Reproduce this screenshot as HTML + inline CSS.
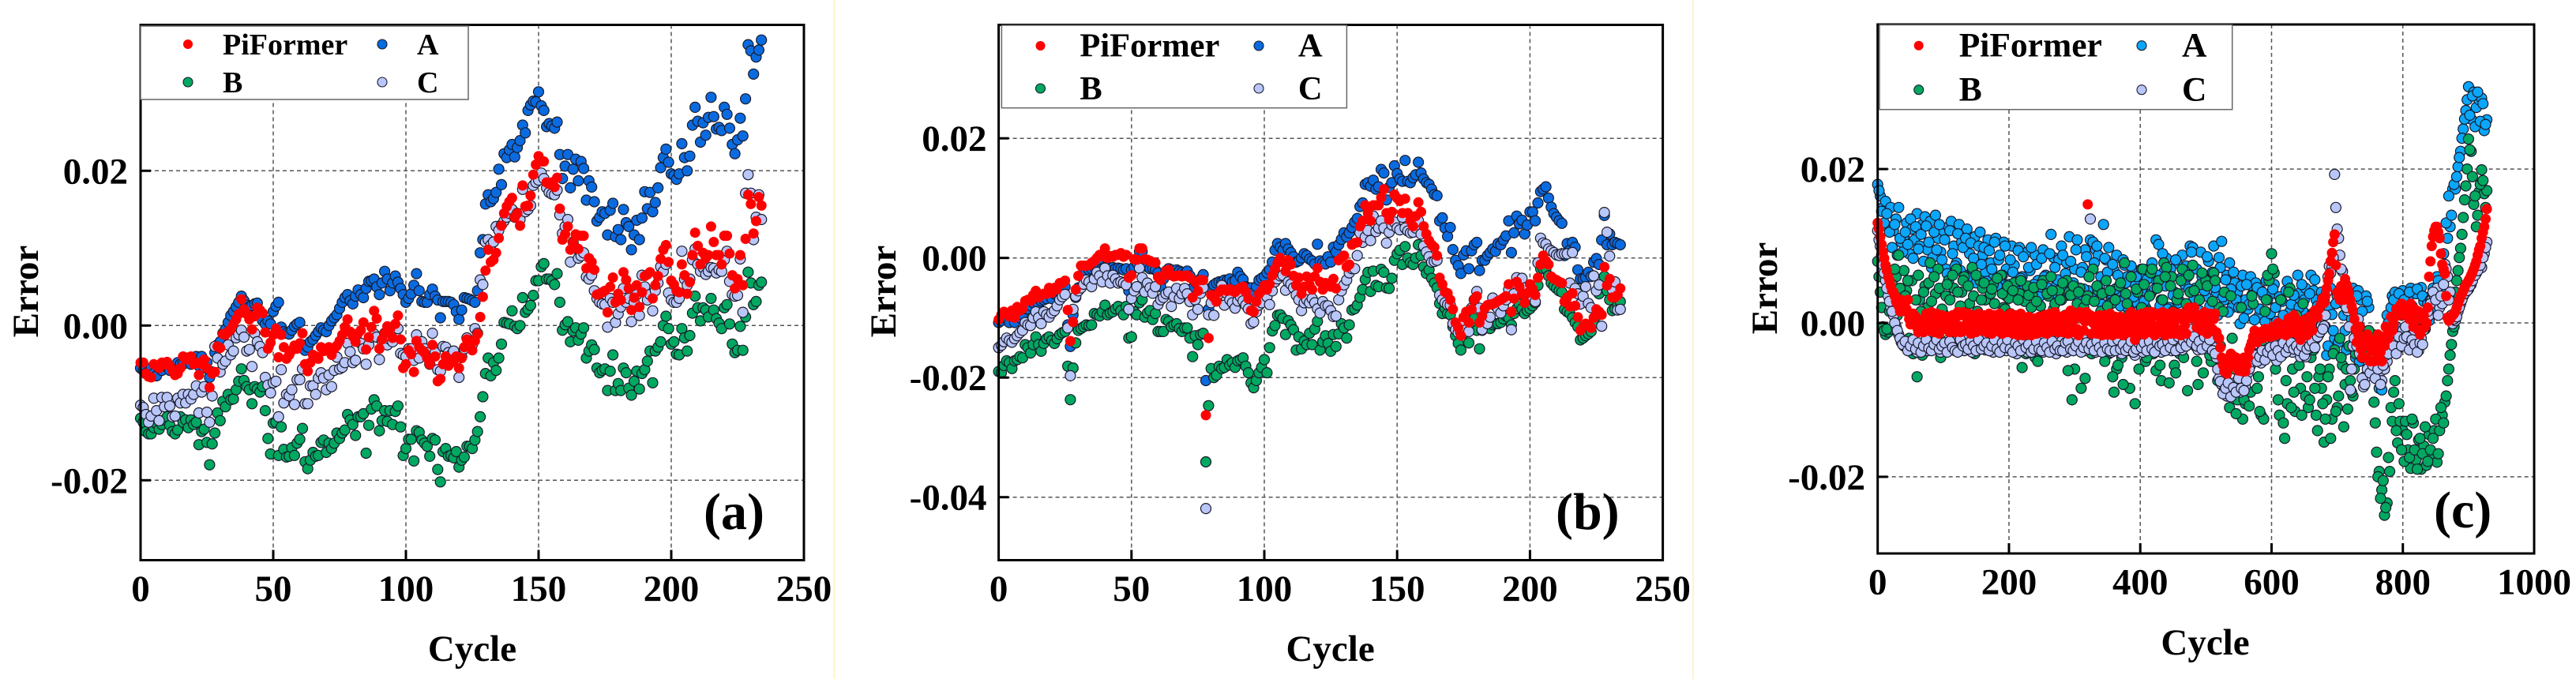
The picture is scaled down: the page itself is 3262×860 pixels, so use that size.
<!DOCTYPE html>
<html lang="en">
<head>
<meta charset="utf-8">
<title>Error vs Cycle scatter panels</title>
<style>
html,body{margin:0;padding:0;background:#fff;width:3262px;height:860px;overflow:hidden}
svg{display:block}
text{font-family:"Liberation Serif",serif;font-weight:bold;fill:#000}
</style>
</head>
<body>
<svg id="figure" width="3262" height="860" viewBox="0 0 3262 860" xmlns="http://www.w3.org/2000/svg">
  <rect x="0" y="0" width="3262" height="860" fill="#fff"/>
  <line x1="1056.5" y1="0" x2="1056.5" y2="860" stroke="#fdf5c4" stroke-width="2"/>
  <line x1="2144" y1="0" x2="2144" y2="860" stroke="#fdf5c4" stroke-width="2"/>

  <g>
    <g id="a-grid"></g>
    <g id="a-marks"></g>
    <rect x="178" y="31.5" width="840" height="678" fill="none" stroke="#000" stroke-width="3"/>
    <g id="a-ticks"></g>
    <text font-size="47" text-anchor="middle" transform="translate(48,369) rotate(-90)">Error</text>
    <text font-size="47" text-anchor="middle" x="598" y="837">Cycle</text>
    <text font-size="66" x="891" y="670">(a)</text>
    <g>
      <rect x="178" y="33" width="415" height="93" fill="#fff" stroke="#666" stroke-width="1.5"/>
      <circle cx="238" cy="56" r="6" fill="#ff0000"/>
      <text font-size="38" x="282" y="69">PiFormer</text>
      <circle cx="484" cy="56" r="6" fill="#0a6be0" stroke="#1a1a2a" stroke-width="1.1"/>
      <text font-size="38" x="528" y="69">A</text>
      <circle cx="238" cy="104" r="6" fill="#00a860" stroke="#1a1a2a" stroke-width="1.1"/>
      <text font-size="38" x="282" y="117">B</text>
      <circle cx="484" cy="104" r="6" fill="#b9c6f9" stroke="#1a1a2a" stroke-width="1.1"/>
      <text font-size="38" x="528" y="117">C</text>
    </g>
  </g>

  <g>
    <g id="b-grid"></g>
    <g id="b-marks"></g>
    <rect x="1264.6" y="31.5" width="841" height="678" fill="none" stroke="#000" stroke-width="3"/>
    <g id="b-ticks"></g>
    <text font-size="47" text-anchor="middle" transform="translate(1134,369) rotate(-90)">Error</text>
    <text font-size="47" text-anchor="middle" x="1684.6" y="837">Cycle</text>
    <text font-size="66" x="1970" y="670">(b)</text>
    <g>
      <rect x="1268.4" y="32" width="437" height="104.7" fill="#fff" stroke="#666" stroke-width="1.5"/>
      <circle cx="1317.5" cy="58" r="6" fill="#ff0000"/>
      <text font-size="42.5" x="1367.4" y="71.7">PiFormer</text>
      <circle cx="1594" cy="58" r="6" fill="#0a6be0" stroke="#1a1a2a" stroke-width="1.1"/>
      <text font-size="42.5" x="1643.9" y="71.7">A</text>
      <circle cx="1317.5" cy="112" r="6" fill="#00a860" stroke="#1a1a2a" stroke-width="1.1"/>
      <text font-size="42.5" x="1367.4" y="126">B</text>
      <circle cx="1594" cy="112" r="6" fill="#b9c6f9" stroke="#1a1a2a" stroke-width="1.1"/>
      <text font-size="42.5" x="1643.9" y="126">C</text>
    </g>
  </g>

  <g>
    <g id="c-grid"></g>
    <g id="c-marks"></g>
    <rect x="2377.7" y="31" width="831.3" height="670" fill="none" stroke="#000" stroke-width="3"/>
    <g id="c-ticks"></g>
    <text font-size="47" text-anchor="middle" transform="translate(2250,365) rotate(-90)">Error</text>
    <text font-size="47" text-anchor="middle" x="2792.5" y="829">Cycle</text>
    <text font-size="66" x="3082" y="668">(c)</text>
    <g>
      <rect x="2380" y="31.5" width="446.7" height="107.2" fill="#fff" stroke="#666" stroke-width="1.5"/>
      <circle cx="2429.7" cy="57.7" r="6" fill="#ff0000"/>
      <text font-size="43.5" x="2480.7" y="71.7">PiFormer</text>
      <circle cx="2712" cy="57.7" r="6" fill="#0aa6fb" stroke="#1a1a2a" stroke-width="1.1"/>
      <text font-size="43.5" x="2763" y="71.7">A</text>
      <circle cx="2429.7" cy="113.7" r="6" fill="#00a860" stroke="#1a1a2a" stroke-width="1.1"/>
      <text font-size="43.5" x="2480.7" y="127.7">B</text>
      <circle cx="2712" cy="113.7" r="6" fill="#b9c6f9" stroke="#1a1a2a" stroke-width="1.1"/>
      <text font-size="43.5" x="2763" y="127.7">C</text>
    </g>
  </g>
</svg>
<script>
// Error values are in units of 1e-4.
// Panels (a) and (b): one value per cycle starting at cycle 0.
const aPiFormer = [
-48,-48,-62,-66,-67,-50,-52,-55,-48,-50,
-47,-52,-58,-64,-62,-55,-40,-44,-42,-40,
-50,-48,-64,-50,-44,-55,-80,-62,-60,-27,
-29,-11,-12,-8,-5,2,8,15,34,21,
15,8,-5,12,23,20,16,-9,-30,-22,
-12,-4,-41,-12,-28,-43,-38,-32,-26,-30,
-23,-10,-50,-59,-48,-38,-40,-43,-28,-33,
-30,-28,-38,-30,-26,-20,-12,-2,8,-8,
-14,-21,-10,-6,4,-31,-15,-2,19,9,
-30,-18,-10,-1,-5,-16,2,13,-18,-55,
-50,-32,-37,-60,-20,-28,-32,-35,-42,-50,
-25,-40,-72,-69,-50,-40,-52,-48,-45,-40,
-55,-42,-28,-18,-20,-32,-20,-11,11,37,
71,98,82,85,94,113,129,145,154,160,
165,140,145,129,181,154,155,168,195,208,
219,212,212,185,183,185,179,191,151,111,
118,128,98,108,118,99,116,116,74,87,
82,72,40,41,43,45,17,50,62,30,
41,33,69,59,48,20,36,52,24,43,
64,66,69,35,52,64,86,98,104,82,
58,53,45,43,79,65,41,56,91,120,
103,79,94,87,91,128,108,91,91,79,
116,116,93,65,48,60,91,52,112,169,
157,119,135,166,155];
const aA = [
-55,-58,-62,-60,-55,-62,-65,-55,-58,-52,
-52,-58,-55,-60,-48,-50,-50,-42,-42,-50,
-45,-40,-52,-40,-55,-48,-67,-60,-35,-25,
-21,-10,-5,4,13,18,24,30,38,32,
26,24,26,28,29,18,6,2,6,2,
18,25,30,-2,-8,-10,-11,-6,-1,2,
4,-25,-32,-28,-21,-18,-13,-8,-3,-6,
-8,0,6,10,14,22,30,36,40,32,
28,38,46,40,36,48,57,58,60,50,
40,55,70,60,45,55,64,56,48,40,
30,35,41,52,67,45,31,30,30,40,
47,38,33,10,31,31,31,30,27,18,
8,20,36,35,34,32,30,45,94,111,
157,169,160,164,172,202,182,222,217,227,
234,218,230,239,259,249,278,285,290,289,
302,284,278,257,261,258,255,263,221,190,
206,221,178,202,215,187,212,203,162,187,
179,160,135,140,147,145,117,149,158,115,
124,111,150,133,128,98,117,136,111,139,
173,151,172,147,159,178,204,217,228,211,
196,194,189,196,235,217,200,219,259,282,
264,237,262,246,269,295,270,254,256,252,
282,273,255,234,222,240,268,245,293,363,
355,325,347,356,369];
const aB = [
-120,-125,-137,-140,-140,-132,-127,-134,-128,-122,
-118,-129,-137,-140,-135,-118,-125,-122,-132,-122,
-128,-125,-154,-137,-134,-151,-180,-153,-139,-113,
-123,-98,-105,-89,-96,-95,-83,-72,-56,-71,
-79,-83,-101,-79,-82,-86,-79,-110,-146,-166,
-126,-125,-168,-131,-160,-170,-169,-158,-168,-152,
-147,-133,-176,-185,-174,-164,-169,-168,-151,-148,
-164,-152,-159,-152,-139,-146,-139,-135,-115,-122,
-128,-142,-118,-118,-114,-165,-129,-108,-96,-104,
-136,-123,-110,-124,-110,-128,-111,-104,-131,-168,
-159,-147,-147,-175,-136,-138,-148,-152,-156,-169,
-146,-148,-186,-202,-163,-159,-169,-168,-171,-163,
-183,-174,-170,-156,-156,-159,-148,-137,-118,-92,
-62,-42,-65,-48,-58,-42,-24,4,3,2,
19,-1,-4,0,36,17,21,26,39,58,
58,76,80,60,60,58,53,67,30,-6,
1,5,-21,-7,-3,-19,-11,-3,-42,-33,
-25,-31,-55,-61,-58,-56,-84,-59,-38,-84,
-75,-84,-55,-61,-81,-90,-72,-59,-82,-62,
-57,-46,-33,-74,-33,-28,-21,0,12,-4,
-24,-21,-37,-38,-4,-16,-33,-13,16,38,
23,6,23,20,11,35,20,9,3,-4,
23,27,2,-24,-35,-32,-1,-32,11,69,
55,27,31,52,56];
const aC = [
-103,-106,-115,-125,-117,-94,-110,-123,-93,-105,
-93,-104,-118,-117,-94,-100,-89,-100,-89,-95,
-89,-78,-113,-86,-79,-112,-125,-91,-27,-42,
-60,-50,-46,-25,-38,-33,-16,-12,-6,-15,
-33,-31,-53,-10,-21,-27,-35,-67,-77,-87,
-74,-72,-118,-57,-100,-89,-91,-83,-102,-70,
-70,-56,-101,-101,-78,-78,-89,-68,-61,-68,
-83,-64,-79,-58,-41,-56,-54,-48,-23,-34,
-48,-45,-21,-23,-30,-50,-25,-15,-11,-15,
-44,-20,-10,-25,-18,-21,-12,-4,-36,-38,
-40,-30,-30,-45,-12,-42,-21,-30,-35,-50,
-10,-35,-57,-59,-27,-28,-35,-38,-33,-45,
-67,-40,-30,-16,-20,-25,-4,-10,59,53,
108,111,104,108,128,123,130,135,140,145,
150,140,145,137,176,147,150,155,181,185,
188,197,190,178,172,170,169,175,143,119,
128,137,82,108,100,87,90,94,63,60,
65,45,35,30,28,27,-2,35,30,4,
15,24,48,30,35,5,30,40,13,65,
50,33,40,19,45,55,76,70,79,42,
33,30,30,35,96,60,52,60,85,99,
79,70,75,66,70,75,74,68,72,70,
85,96,57,40,38,39,86,17,171,195,
171,111,140,169,137];

const bPiFormer = [
-103,-95,-90,-92,-98,-88,-100,-82,-88,-85,
-72,-70,-72,-62,-55,-66,-62,-60,-60,-50,
-58,-50,-52,-42,-42,-38,-87,-139,-107,-53,
-30,-13,-13,-13,-12,-8,-5,0,5,3,
16,0,3,2,5,5,8,2,5,-33,
-29,-2,-3,16,16,-2,-3,-5,-7,-8,
-32,-37,-30,-22,-20,-29,-31,-30,-29,-31,
-30,-29,-33,-66,-40,-55,-37,-37,-263,-134,
-62,-66,-73,-57,-53,-53,-55,-52,-55,-57,
-53,-50,-48,-57,-68,-88,-90,-73,-60,-55,
-46,-53,-44,-29,-18,-8,0,-7,-22,-4,
-11,-30,-46,-33,-60,-48,-31,-45,-53,-31,
-17,-40,-53,-42,-45,-48,-35,-51,-4,0,
4,-15,-11,22,25,26,53,62,88,75,
62,88,88,88,101,115,75,64,77,106,
100,95,75,99,75,62,53,70,93,77,
53,40,29,22,18,4,-33,-44,-57,-59,
-70,-86,-108,-117,-130,-99,-90,-108,-86,-70,
-64,-108,-97,-84,-79,-78,-77,-75,-72,-70,
-67,-64,-44,-90,-68,-40,-48,-60,-75,-59,
-44,-52,-62,-33,-11,4,-5,-11,-31,-35,
-37,-40,-42,-73,-66,-81,-59,-80,-99,-121,
-115,-110,-112,-117,-100,-86,-90,-95,-15,-46,
-35,-66,-66,-62,-51];
const bA = [
-108,-105,-100,-102,-108,-98,-108,-95,-100,-95,
-85,-85,-80,-75,-70,-78,-72,-70,-68,-60,
-68,-60,-62,-52,-50,-48,-112,-148,-95,-66,
-50,-30,-24,-22,-20,-18,-15,-14,-12,-18,
-16,-15,-18,-16,-18,-17,-18,-20,-18,-55,
-20,-15,-8,11,11,-10,-15,-18,-18,-20,
-25,-48,-35,-22,-18,-20,-25,-20,-22,-24,
-26,-22,-30,-50,-40,-45,-35,-28,-205,-86,
-50,-45,-42,-40,-40,-37,-38,-35,-40,-38,
-24,-31,-36,-48,-50,-50,-58,-48,-37,-34,
-31,-25,-20,-7,13,24,18,13,24,15,
9,2,-7,-5,0,7,4,-2,-5,-10,
23,-5,-8,-10,2,-7,18,10,22,31,
42,35,42,51,60,66,86,92,123,126,
120,130,115,119,148,142,97,118,126,154,
141,132,128,163,128,126,134,139,160,142,
132,126,123,115,106,104,62,67,50,36,
51,14,-4,-13,-26,5,12,-18,12,22,
26,-21,-4,-4,4,9,15,11,24,22,
30,37,62,9,42,70,57,63,40,55,
77,77,62,92,111,115,119,100,85,74,
68,62,58,4,24,13,26,18,-20,-35,
-35,-33,-24,-31,-7,-1,-11,30,71,22,
40,22,26,24,22];
const bB = [
-190,-192,-180,-172,-175,-185,-172,-170,-165,-167,
-145,-150,-159,-145,-132,-145,-156,-143,-135,-132,
-138,-143,-135,-128,-125,-123,-181,-237,-184,-142,
-121,-118,-115,-112,-113,-112,-93,-95,-97,-90,
-79,-95,-92,-90,-85,-81,-88,-95,-81,-134,
-132,-90,-95,-75,-70,-99,-92,-88,-103,-93,
-123,-123,-123,-103,-106,-115,-112,-110,-118,-123,
-117,-117,-134,-165,-130,-145,-128,-126,-341,-247,
-185,-200,-196,-181,-185,-183,-170,-179,-175,-183,
-172,-170,-167,-181,-192,-209,-217,-205,-192,-183,
-170,-192,-150,-122,-113,-96,-95,-101,-128,-105,
-112,-120,-154,-132,-152,-139,-145,-126,-145,-119,
-106,-154,-140,-130,-143,-156,-128,-148,-127,-110,
-117,-134,-112,-87,-85,-79,-66,-53,-36,-24,
-56,-22,-46,-48,-19,-24,-50,-51,-34,-4,
7,13,-11,19,0,-8,-11,0,22,4,
-15,-26,-20,-34,-42,-50,-76,-93,-84,-93,
-95,-115,-130,-143,-154,-126,-110,-142,-115,-101,
-121,-152,-121,-110,-115,-118,-112,-110,-110,-108,
-102,-97,-100,-112,-93,-85,-77,-85,-93,-88,
-85,-80,-75,-46,-18,-18,-18,-30,-42,-47,
-51,-55,-57,-86,-90,-93,-100,-108,-115,-137,
-134,-130,-127,-123,-110,-97,-60,-45,-31,-55,
-70,-88,-85,-80,-73];
const bC = [
-150,-146,-140,-134,-138,-141,-135,-130,-125,-121,
-108,-112,-113,-100,-90,-100,-110,-90,-95,-99,
-92,-88,-80,-70,-65,-61,-117,-197,-86,-64,
-55,-50,-44,-37,-40,-48,-35,-24,-30,-40,
-17,-30,-42,-29,-35,-42,-40,-42,-45,-86,
-68,-55,-48,-17,-33,-57,-42,-50,-59,-48,
-78,-70,-66,-60,-57,-81,-65,-51,-68,-60,
-51,-60,-73,-95,-70,-86,-59,-50,-419,-95,
-75,-96,-70,-60,-46,-79,-60,-70,-75,-84,
-72,-65,-72,-79,-85,-110,-107,-90,-79,-75,
-60,-65,-78,-55,-40,-35,-30,-29,-54,-40,
-44,-50,-62,-70,-88,-75,-70,-75,-68,-75,
-85,-92,-73,-80,-80,-88,-98,-97,-70,-55,
-45,-37,-25,-18,-18,4,42,26,35,46,
29,70,44,50,62,50,25,43,55,60,
50,47,68,50,45,42,43,50,62,40,
20,10,2,-7,-6,-4,-62,-70,-75,-78,
-79,-110,-120,-125,-125,-110,-120,-123,-84,-70,
-56,-84,-120,-105,-110,-99,-67,-80,-85,-92,
-80,-70,-53,-120,-60,-33,-40,-34,-50,-60,
-60,-65,-73,-8,33,25,23,15,12,9,
5,4,7,7,7,-42,9,-51,-60,-77,
-64,-48,-76,-83,-30,-55,-45,-114,76,43,
3,-53,-40,-87,-86];

// Panel (c): values at cycles 0,4,8,... and "Between" values at cycles 2,6,10,...
const cPiFormer = [
130,112,92,75,60,48,40,28,22,30,
25,18,5,2,-2,-6,-8,-5,6,-2,
8,-6,4,-8,2,6,-5,3,-6,0,
8,-4,10,-4,6,-5,2,8,-6,0,
3,-5,6,-7,2,5,-6,4,-8,0,
6,-4,3,-7,0,-10,-6,2,-8,-3,
-6,2,5,-5,3,6,-4,5,8,-3,
4,-2,6,10,-4,5,-8,14,6,2,
154,10,0,-4,4,-6,5,-8,3,-10,
-3,6,-8,4,-12,-3,10,-2,-22,-6,
5,-4,8,-6,4,-8,10,-3,6,-8,
3,-6,8,-4,5,-10,6,-3,14,16,
12,6,-4,3,-6,8,-2,10,5,-12,
-20,-45,-63,-66,-50,-42,-52,-55,-60,-63,
-63,-45,-30,-18,-15,-20,-12,-15,-18,-8,
-11,-8,-12,-5,-14,-6,0,-8,2,6,
-8,-22,-5,-10,2,-4,6,14,18,26,
26,45,64,91,115,40,30,40,57,45,
30,16,-8,-15,-34,-20,-45,-20,-35,-50,
-40,-25,-50,-30,-15,-5,-10,8,15,23,
22,10,15,25,-5,5,15,-10,10,0,
60,100,120,125,110,76,64,7,5,10,
15,25,35,42,50,55,62,70,80,95,
110,125,148];
const cPiFormerBetween = [
122,102,84,68,55,42,35,25,15,28,
15,30,-2,12,8,-12,2,-12,12,-10,
14,-12,12,-14,10,-8,8,-12,10,-12,
14,-12,14,-10,12,-14,10,-12,12,-10,
10,-12,12,-14,10,-10,12,-14,8,-12,
12,-14,10,-16,12,-16,-14,8,-16,6,
-14,8,-12,10,-14,12,-10,14,-12,8,
-12,10,-14,16,-12,12,-16,10,-10,14,
8,-14,8,-14,10,-16,10,-15,12,-16,
8,-14,8,-16,6,-12,14,-14,10,-14,
12,-15,14,-12,14,-16,12,-12,14,-16,
12,-14,14,-14,12,-16,12,-14,20,6,
20,-6,10,-10,14,-14,12,-8,12,-18,
-32,-55,-58,-60,-40,-55,-45,-62,-52,-45,
-55,-35,-25,-10,-25,-12,-20,-8,-15,-18,
-5,-16,0,-14,-4,-16,6,-12,10,-14,
2,-14,4,-16,8,-10,16,8,22,32,
35,55,80,105,75,35,48,30,50,38,
22,5,-25,-5,-45,-30,-15,-50,-25,-30,
-15,-38,-20,-5,-20,8,-2,18,10,25,
12,22,5,12,18,-8,-15,5,-5,20,
80,112,125,118,90,70,35,3,8,12,
20,30,38,46,52,58,66,75,88,100,
118,135];
const cA = [
180,165,150,158,125,150,120,135,150,105,
112,130,90,122,108,142,100,128,138,95,
132,85,140,110,92,120,70,125,132,100,
78,128,105,62,122,90,70,112,60,118,
88,65,108,78,58,110,82,55,105,70,
50,100,75,52,98,60,45,92,68,42,
88,55,40,95,62,40,115,85,48,82,
100,44,78,112,50,70,108,45,72,95,
42,108,105,95,88,60,128,82,98,30,
68,88,42,28,75,60,30,70,50,25,
62,42,20,70,38,58,108,102,30,66,
84,20,60,40,78,28,88,50,60,100,
98,45,30,92,58,35,80,55,100,40,
85,106,30,62,78,20,52,40,-1,62,
30,18,60,45,52,8,42,35,55,10,
38,50,2,34,28,-2,54,15,2,30,
62,40,15,45,-2,62,42,30,-10,40,
30,-42,20,11,-20,35,42,30,-10,40,
-30,45,-45,42,30,-40,35,20,-60,-30,
-55,-85,-87,-60,10,-20,35,40,-25,25,
42,18,30,45,-5,38,-12,46,28,33,
3,20,33,60,33,40,70,110,125,174,
174,203,223,252,276,307,265,300,280,290,
292,250,264];
const cABetween = [
172,145,130,142,118,98,128,88,110,92,
118,102,135,84,125,96,115,80,126,105,
72,118,95,128,82,108,64,120,90,74,
116,68,98,110,58,104,84,52,100,76,
98,54,94,70,105,48,88,62,100,44,
82,66,42,94,58,86,36,72,98,50,
76,34,84,60,46,90,38,72,56,30,
88,64,36,80,52,95,34,66,44,86,
60,32,78,100,48,24,84,66,26,76,
44,62,22,82,52,18,74,34,60,16,
70,28,56,14,78,44,62,22,90,48,
18,70,36,82,26,58,12,74,44,92,
32,70,16,60,42,86,22,66,46,10,
72,34,56,14,44,66,30,20,48,6,
50,24,36,4,46,18,40,2,30,12,
44,20,-2,30,10,42,-4,24,36,6,
20,50,30,5,38,12,56,22,-5,32,
-5,-30,45,-10,25,-25,38,10,-35,28,
5,-30,35,-50,15,-20,28,-40,-15,-65,
-70,-78,-50,-35,0,20,30,-5,38,10,
30,-8,40,22,-15,44,5,35,-8,25,
30,45,15,55,28,90,130,165,140,180,
190,215,240,265,290,270,295,255,300,262,
285,258];
const cB = [
80,40,-5,-15,-12,-8,25,60,88,30,
68,42,-20,55,10,-70,30,-42,48,20,
78,-25,38,70,-45,12,35,55,-30,45,
70,-20,40,60,-10,25,72,-40,15,55,
45,30,-15,38,50,0,-20,62,20,35,
32,-25,52,-5,38,-58,28,48,-15,35,
-45,-50,22,55,-20,35,60,18,-30,42,
30,-18,55,40,-100,-60,25,45,-15,-72,
35,-20,70,-30,42,15,-35,55,-40,25,
-90,-60,48,-45,78,25,-85,-30,-105,40,
-35,70,-50,15,65,-40,-62,55,-75,78,
72,-78,60,-55,30,-40,70,10,-88,40,
75,-30,-80,50,-65,55,10,-50,65,-35,
20,-55,40,-95,-110,-20,-60,-100,-70,-125,
-105,-60,-90,25,-40,-70,-120,-125,30,55,
90,65,-40,-120,-20,-150,-105,45,-60,-115,
-30,-85,25,-95,-110,-45,-35,-120,-70,-85,
-155,-100,-60,-125,-35,-110,-20,-55,-80,-112,
-75,-95,-40,-20,-30,-15,-40,-10,-20,-103,
-168,-193,-217,-250,-234,-193,-128,-75,-156,-128,
-140,-128,-165,-189,-130,-178,-152,-190,-160,-185,
-145,-175,-140,-181,-140,-120,-103,-75,-42,-11,
40,68,97,137,178,239,223,154,125,170,
199,168,172];
const cBBetween = [
60,20,-10,-8,15,50,70,10,45,25,
35,55,5,-40,30,62,15,40,-22,52,
28,60,-10,45,18,-35,50,30,62,8,
40,22,55,-28,48,10,35,62,-15,30,
52,8,-35,44,25,58,-10,38,18,48,
12,42,-28,30,55,6,-40,36,20,46,
28,-32,50,10,38,-20,42,25,-38,30,
52,10,-62,36,48,-25,40,-85,20,30,
60,-40,28,48,-15,38,-50,22,42,-70,
30,-55,52,-80,38,10,60,-25,44,-60,
20,50,-45,35,70,-20,45,-55,30,60,
-35,48,15,-65,38,55,-45,25,62,-15,
42,-50,30,65,-20,48,-42,28,55,-75,
-30,15,-72,-90,35,-50,-118,-85,20,-100,
-60,-108,35,-20,-85,-115,-30,15,62,-40,
70,-60,-100,30,-130,-75,40,-110,-90,10,
-55,-120,-40,-70,-100,10,-85,-140,-60,-105,
-125,-70,-150,-40,-115,-95,-45,-135,-60,-30,
-90,-60,-25,-5,-45,-70,-30,-48,-60,-130,
-200,-228,-205,-240,-175,-110,-90,-140,-105,-165,
-180,-145,-175,-125,-165,-190,-150,-170,-135,-180,
-165,-150,-125,-170,-110,-130,-95,-60,-28,-5,
55,85,115,160,200,225,190,165,140,180,
185,150];
const cC = [
120,100,75,55,35,20,10,-5,-15,-25,
-30,-32,-28,-35,-30,-38,-28,-33,-26,-36,
-30,-24,-34,-27,-38,-25,-32,-22,-35,-28,
-24,-33,-26,-36,-22,-30,-38,-25,-32,-28,
-22,-35,-27,-24,-38,-30,-22,-33,-26,-36,
-28,-24,-35,-40,-27,-33,-24,-38,-30,-25,
-36,-28,-22,-38,-30,-25,-35,-20,-40,-28,
-24,-33,-38,-26,-30,-22,-35,-28,-20,-36,
-30,135,-24,-38,-28,-22,-35,-30,-25,-38,
-28,-33,-24,-40,-30,-20,-36,-28,-42,-30,
-25,-38,-22,-35,-30,-28,-32,-24,-38,-26,
-30,-22,-36,-26,-30,-22,-35,-18,-28,-15,
-8,-22,-35,-16,-28,-20,-33,-25,-32,-45,
-72,-80,-88,-95,-85,-92,-78,-82,-90,-75,
-83,-65,-55,-49,-45,-40,-52,-38,-35,-42,
-30,-38,-49,-32,-42,-30,-35,-28,-38,-25,
-30,-44,-38,-44,-28,-32,-27,-20,-15,-4,
-4,40,74,72,193,122,88,67,23,16,
-87,-30,-9,5,-20,-83,-70,-55,-60,-66,
-70,-66,-75,-60,-50,-34,-30,-20,-34,-25,
-10,-5,-25,-30,-15,-30,-36,-20,-9,5,
10,30,35,45,20,25,76,60,40,-1,
3,15,25,35,40,44,50,60,65,72,
72,90,105];
const cCBetween = [
108,88,65,45,28,15,0,-10,-20,-28,
-24,-36,-30,-22,-34,-26,-38,-30,-22,-33,
-36,-28,-22,-34,-30,-26,-38,-24,-32,-36,
-38,-22,-30,-28,-34,-24,-30,-36,-22,-34,
-30,-26,-36,-30,-22,-34,-38,-26,-32,-22,
-34,-38,-26,-30,-36,-22,-32,-28,-38,-34,
-24,-34,-36,-26,-32,-38,-24,-34,-30,-36,
-36,-26,-24,-34,-36,-30,-24,-38,-32,-26,
-34,-28,-36,-24,-32,-38,-26,-34,-36,-24,
-36,-22,-34,-28,-36,-32,-24,-38,-34,-26,
-32,-26,-36,-24,-34,-38,-26,-30,-28,-36,
-24,-32,-22,-36,-18,-32,-24,-30,-20,-25,
-18,-30,-24,-34,-18,-30,-22,-36,-40,-60,
-76,-92,-85,-78,-96,-84,-90,-72,-85,-88,
-75,-60,-50,-42,-50,-44,-36,-48,-38,-32,
-42,-30,-36,-44,-26,-38,-32,-26,-34,-30,
-36,-30,-42,-34,-30,-24,-32,-18,-12,-8,
10,60,65,85,150,110,70,45,20,-5,
-60,-20,-30,-40,-72,-80,-60,-65,-55,-72,
-60,-80,-55,-42,-40,-25,-30,-40,-18,-30,
-20,-18,-35,-22,-28,-38,-26,-28,-5,15,
25,40,30,10,35,50,70,30,10,5,
8,20,30,38,42,48,55,62,68,75,
85,98];

const abXTicks = [0, 50, 100, 150, 200, 250];
const cXTicks = [0, 200, 400, 600, 800, 1000];
const aYTicks = [0.02, 0, -0.02];
const bYTicks = [0.02, 0, -0.02, -0.04];
const cYTicks = [0.02, 0, -0.02];

const SVGNS = 'http://www.w3.org/2000/svg';
function mk(tag, attrs, parent) {
  const el = document.createElementNS(SVGNS, tag);
  for (const k in attrs) el.setAttribute(k, attrs[k]);
  parent.appendChild(el);
  return el;
}

function drawPanel(cfg) {
  const xScale = c => cfg.x0 + (c / cfg.xMax) * (cfg.x1 - cfg.x0);
  const yScale = v => cfg.yZero - v * cfg.yPerUnit;
  const grid = document.getElementById(cfg.id + '-grid');
  const marks = document.getElementById(cfg.id + '-marks');
  const ticks = document.getElementById(cfg.id + '-ticks');

  cfg.xTicks.forEach(t => {
    const x = xScale(t);
    if (t > 0 && t < cfg.xMax) {
      const gl = mk('line', {x1: x, x2: x, y1: cfg.yTop, y2: cfg.yBottom, stroke: '#555', 'stroke-width': 1.5, 'stroke-dasharray': '5,4'}, grid);
      
      
      const tm = mk('line', {x1: x, x2: x, y1: cfg.yBottom, y2: cfg.yBottom - 13, stroke: '#000', 'stroke-width': 3}, ticks);
      
      
    }
    const lb = mk('text', {x: x, y: cfg.xLabelY, 'font-size': 47, 'text-anchor': 'middle'}, ticks);
    lb.textContent = String(t);
    
    
  });

  cfg.yTicks.forEach(t => {
    const y = yScale(t * 10000);
    const gl = mk('line', {x1: cfg.x0, x2: cfg.x1, y1: y, y2: y, stroke: '#555', 'stroke-width': 1.5, 'stroke-dasharray': '5,4'}, grid);
    
    
    const tm = mk('line', {x1: cfg.x0, x2: cfg.x0 + 13, y1: y, y2: y, stroke: '#000', 'stroke-width': 3}, ticks);
    
    
    const lb = mk('text', {x: cfg.yLabelX, y: y + 16, 'font-size': 47, 'text-anchor': 'end'}, ticks);
    lb.textContent = t.toFixed(2);
    
    
  });

  cfg.series.forEach(s => {
    const g = mk('g', {}, marks);
    
    
    const addPoint = (cycle, v) => {
      const attrs = {cx: xScale(cycle).toFixed(1), cy: yScale(v).toFixed(1), r: 6.5, fill: s.color};
      if (s.outline) { attrs.stroke = '#1a1a2a'; attrs['stroke-width'] = 1.2; }
      const pt = mk('circle', attrs, g);
      
      
    };
    s.values.forEach((v, i) => addPoint(i * cfg.step, v));
    if (s.between) s.between.forEach((v, i) => addPoint(i * cfg.step + cfg.step / 2, v));
  });
}

drawPanel({
  id: 'a', x0: 178, x1: 1018, xMax: 250, step: 1, yZero: 412.3, yPerUnit: 0.98,
  yTop: 31.5, yBottom: 709.5, xLabelY: 761, yLabelX: 162, xTicks: abXTicks, yTicks: aYTicks,
  series: [
    {name: 'a', values: aA, color: '#0a6be0', outline: true},
    {name: 'b', values: aB, color: '#00a860', outline: true},
    {name: 'c', values: aC, color: '#b9c6f9', outline: true},
    {name: 'piformer', values: aPiFormer, color: '#ff0000', outline: false}
  ]
});
drawPanel({
  id: 'b', x0: 1264.6, x1: 2105.6, xMax: 250, step: 1, yZero: 326.7, yPerUnit: 0.7575,
  yTop: 31.5, yBottom: 709.5, xLabelY: 761, yLabelX: 1249.5, xTicks: abXTicks, yTicks: bYTicks,
  series: [
    {name: 'a', values: bA, color: '#0a6be0', outline: true},
    {name: 'b', values: bB, color: '#00a860', outline: true},
    {name: 'c', values: bC, color: '#b9c6f9', outline: true},
    {name: 'piformer', values: bPiFormer, color: '#ff0000', outline: false}
  ]
});
drawPanel({
  id: 'c', x0: 2377.7, x1: 3209, xMax: 1000, step: 4, yZero: 409, yPerUnit: 0.9745,
  yTop: 31, yBottom: 701, xLabelY: 752.5, yLabelX: 2362, xTicks: cXTicks, yTicks: cYTicks,
  series: [
    {name: 'a', values: cA, between: cABetween, color: '#0aa6fb', outline: true},
    {name: 'b', values: cB, between: cBBetween, color: '#00a860', outline: true},
    {name: 'c', values: cC, between: cCBetween, color: '#b9c6f9', outline: true},
    {name: 'piformer', values: cPiFormer, between: cPiFormerBetween, color: '#ff0000', outline: false}
  ]
});
</script>
</body>
</html>
